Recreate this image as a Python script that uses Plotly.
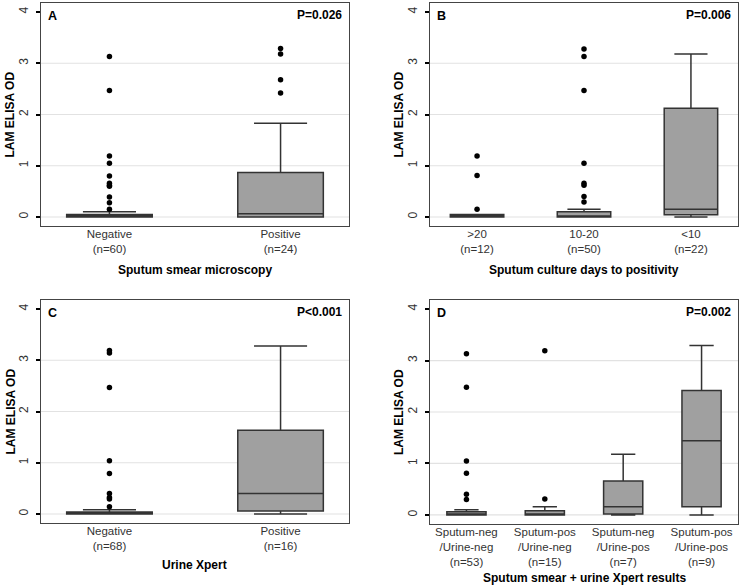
import plotly.graph_objects as go

# ---------------- data ----------------
# Panel A: Sputum smear microscopy
A_cats = ["Negative<br>(n=60)", "Positive<br>(n=24)"]
A_q1 = [0.0, 0.0]
A_med = [0.01, 0.065]
A_q3 = [0.05, 0.87]
A_lo = [0.0, 0.0]
A_hi = [0.10, 1.83]
A_out = [[3.13, 2.47, 1.19, 1.05, 0.80, 0.66, 0.62, 0.60, 0.39, 0.28, 0.15],
         [3.29, 3.18, 2.68, 2.42]]

# Panel B: Sputum culture days to positivity
B_cats = [">20<br>(n=12)", "10-20<br>(n=50)", "<10<br>(n=22)"]
B_q1 = [0.0, 0.0, 0.045]
B_med = [0.01, 0.02, 0.15]
B_q3 = [0.05, 0.10, 2.12]
B_lo = [0.0, 0.0, 0.0]
B_hi = [0.05, 0.15, 3.18]
B_out = [[1.19, 0.81, 0.15],
         [3.28, 3.13, 2.47, 1.05, 0.66, 0.62, 0.40, 0.29],
         []]

# Panel C: Urine Xpert
C_cats = ["Negative<br>(n=68)", "Positive<br>(n=16)"]
C_q1 = [0.0, 0.06]
C_med = [0.01, 0.40]
C_q3 = [0.04, 1.635]
C_lo = [0.0, 0.0]
C_hi = [0.085, 3.28]
C_out = [[3.19, 3.14, 2.47, 1.04, 0.79, 0.40, 0.32, 0.29, 0.14],
         []]

# Panel D: Sputum smear + urine Xpert results
D_cats = ["Sputum-neg<br>/Urine-neg<br>(n=53)", "Sputum-pos<br>/Urine-neg<br>(n=15)",
          "Sputum-neg<br>/Urine-pos<br>(n=7)", "Sputum-pos<br>/Urine-pos<br>(n=9)"]
D_q1 = [0.0, 0.0, 0.02, 0.16]
D_med = [0.01, 0.02, 0.16, 1.44]
D_q3 = [0.06, 0.08, 0.66, 2.42]
D_lo = [0.0, 0.0, 0.0, 0.0]
D_hi = [0.10, 0.16, 1.18, 3.29]
D_out = [[3.13, 2.48, 1.05, 0.81, 0.40, 0.30],
         [3.19, 0.31],
         [],
         []]

Y_TICKS = [0, 1, 2, 3, 4]
GRID = [0, 1, 2, 3]

panels = [
    dict(cats=A_cats, q1=A_q1, med=A_med, q3=A_q3, lo=A_lo, hi=A_hi, out=A_out,
         letter="A", p="P=0.026", xtitle="Sputum smear microscopy"),
    dict(cats=B_cats, q1=B_q1, med=B_med, q3=B_q3, lo=B_lo, hi=B_hi, out=B_out,
         letter="B", p="P=0.006", xtitle="Sputum culture days to positivity"),
    dict(cats=C_cats, q1=C_q1, med=C_med, q3=C_q3, lo=C_lo, hi=C_hi, out=C_out,
         letter="C", p="P<0.001", xtitle="Urine Xpert"),
    dict(cats=D_cats, q1=D_q1, med=D_med, q3=D_q3, lo=D_lo, hi=D_hi, out=D_out,
         letter="D", p="P=0.002", xtitle="Sputum smear + urine Xpert results"),
]

# ---------------- layout geometry ----------------
W, H = 742, 587
xdoms = [(41, 349), (430, 738), (41, 349), (430, 738)]
ydoms = [(3, 226), (3, 226), (300, 523), (300, 524)]
xtitle_y = [270, 270, 565, 578]

FONT = "Liberation Sans, Arial, sans-serif"
TXT = "#222222"

fig = go.Figure()
layout = dict(
    width=W, height=H, margin=dict(l=0, r=0, t=0, b=0),
    paper_bgcolor="white", plot_bgcolor="white", showlegend=False,
    font=dict(family=FONT, size=12, color=TXT),
)
annotations = []
shapes = []

for i, p in enumerate(panels):
    k = "" if i == 0 else str(i + 1)
    xa, ya = "x" + k, "y" + k
    n = len(p["cats"])
    pos = list(range(1, n + 1))
    fig.add_trace(go.Box(
        x=pos, q1=p["q1"], median=p["med"], q3=p["q3"],
        lowerfence=p["lo"], upperfence=p["hi"],
        width=0.5, whiskerwidth=0.62, boxpoints=False,
        fillcolor="#a0a0a0", line=dict(color="#333333", width=1.5),
        xaxis=xa, yaxis=ya, hoverinfo="skip",
    ))
    ox, oy = [], []
    for j, vals in enumerate(p["out"]):
        for v in vals:
            ox.append(pos[j])
            oy.append(v)
    fig.add_trace(go.Scatter(
        x=ox, y=oy, mode="markers",
        marker=dict(color="black", size=5.5),
        xaxis=xa, yaxis=ya, hoverinfo="skip",
    ))

    half = (n - 1) / 2 + 0.5
    mid = (n + 1) / 2
    pad = {2: 0.4, 3: 0.44, 4: 0.465}[n] - 0.5
    x0, x1 = xdoms[i]
    y0, y1 = ydoms[i]
    layout["xaxis" + k] = dict(
        domain=[x0 / W, x1 / W], anchor=ya,
        range=[mid - half - pad, mid + half + pad],
        tickvals=pos, ticktext=p["cats"], ticks="",
        tickfont=dict(size=11.5, color="#333333", family=FONT),
        ticklabelstandoff=-3,
        showline=True, mirror=True, linecolor="#444444", linewidth=1.3,
        showgrid=False, zeroline=False, fixedrange=True,
    )
    layout["yaxis" + k] = dict(
        domain=[1 - y1 / H, 1 - y0 / H], anchor=xa,
        range=[-0.176, 4.176], tickvals=Y_TICKS,
        ticktext=[str(t) for t in Y_TICKS], tickangle=-90,
        ticks="outside", ticklen=4, tickwidth=2, tickcolor="black",
        tickfont=dict(size=12, color="#333333", family=FONT),
        ticklabelstandoff=3,
        showline=True, mirror=True, linecolor="#444444", linewidth=1.3,
        showgrid=False, zeroline=False, fixedrange=True,
    )
    for g in GRID:
        shapes.append(dict(type="line", xref=xa + " domain", yref=ya,
                           x0=0, x1=1, y0=g, y1=g, layer="below",
                           line=dict(color="#e2e2e2", width=1.2)))
    # panel letter and p-value
    annotations.append(dict(text="<b>%s</b>" % p["letter"], xref=xa + " domain",
                            yref=ya + " domain", x=0, y=1, xanchor="left",
                            yanchor="top", xshift=5, yshift=-4, showarrow=False,
                            font=dict(size=12.5, color="black", family=FONT)))
    annotations.append(dict(text="<b>%s</b>" % p["p"], xref=xa + " domain",
                            yref=ya + " domain", x=1, y=1, xanchor="right",
                            yanchor="top", xshift=-5, yshift=-3, showarrow=False,
                            font=dict(size=12, color="black", family=FONT)))
    # y title
    annotations.append(dict(text="<b>LAM ELISA OD</b>", xref="paper", yref="paper",
                            x=(x0 - 31) / W, y=1 - (y0 + y1) / 2 / H,
                            xanchor="center", yanchor="middle", textangle=-90,
                            showarrow=False,
                            font=dict(size=12, color="black", family=FONT)))
    # x title
    annotations.append(dict(text="<b>%s</b>" % p["xtitle"], xref="paper", yref="paper",
                            x=(x0 + x1) / 2 / W, y=1 - xtitle_y[i] / H,
                            xanchor="center", yanchor="middle", showarrow=False,
                            font=dict(size=12, color="black", family=FONT)))

layout["annotations"] = annotations
layout["shapes"] = shapes
fig.update_layout(**layout)
fig.write_html("out.html", config={"displayModeBar": False},
               post_script="document.body.style.margin='0';document.body.style.overflow='hidden';")
